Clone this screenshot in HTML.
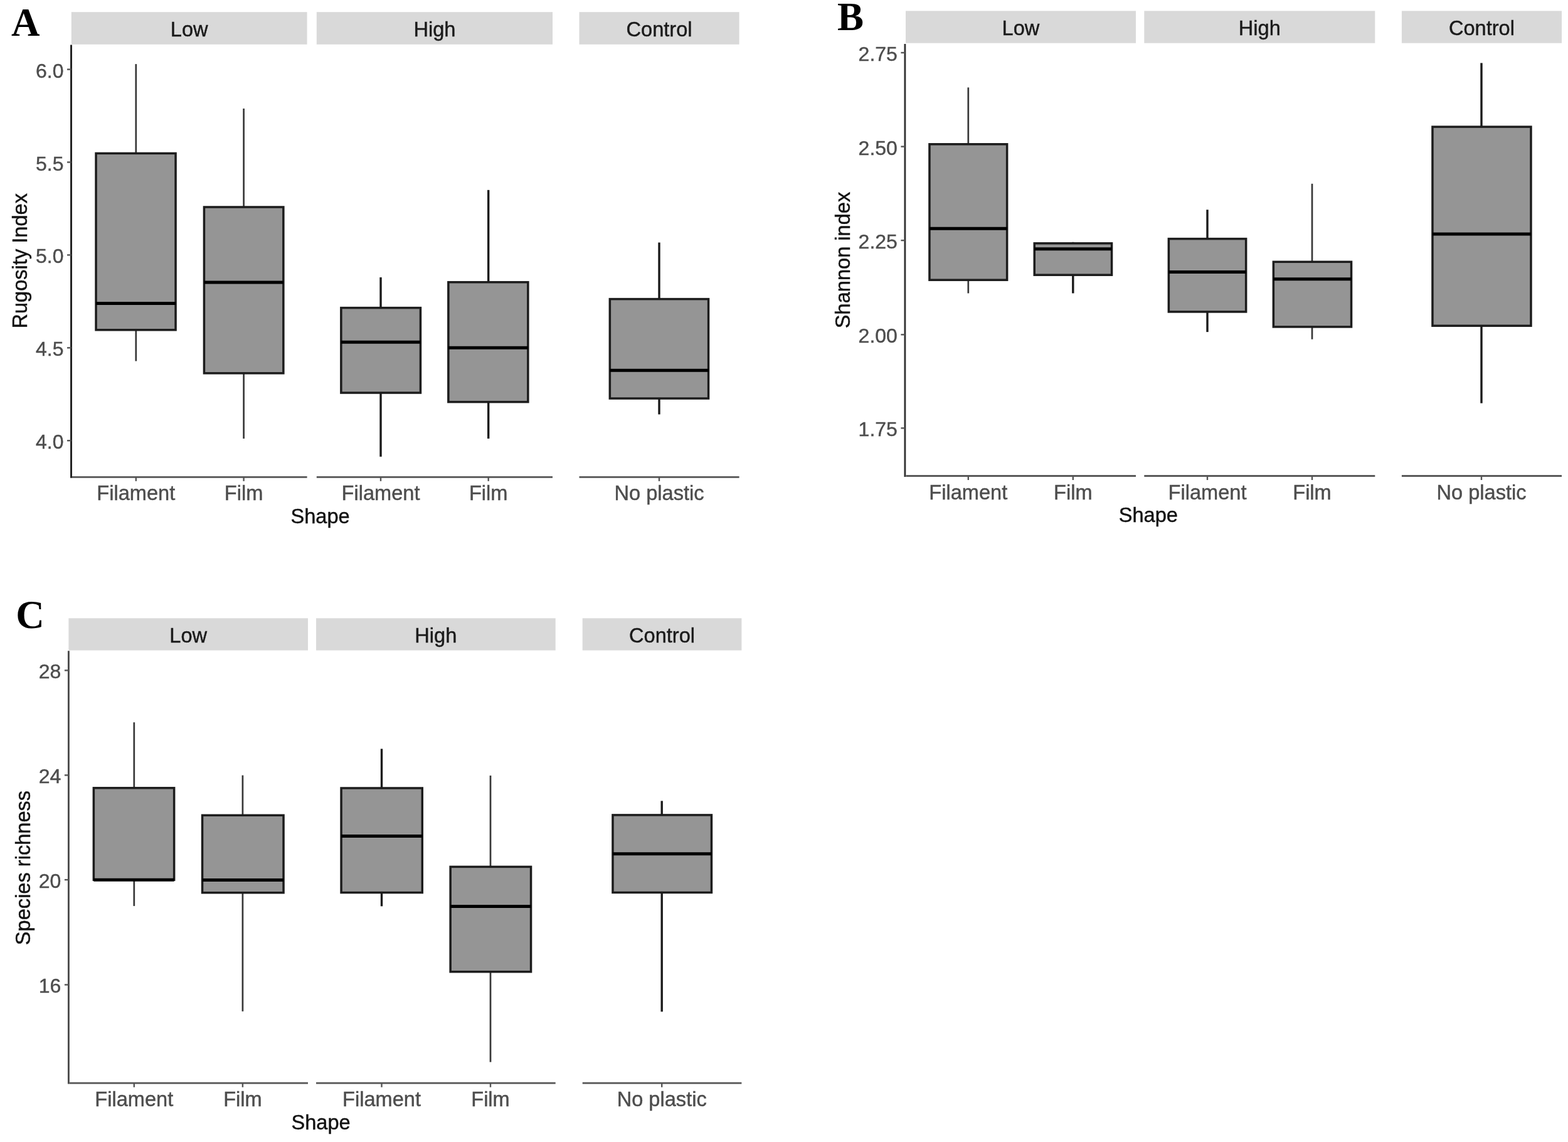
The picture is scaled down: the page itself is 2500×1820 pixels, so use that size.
<!DOCTYPE html>
<html><head><meta charset="utf-8"><title>Boxplots: Rugosity Index, Shannon index and Species richness by Shape</title>
<style>
html,body{margin:0;padding:0;background:#fff;}
body{width:2500px;height:1820px;overflow:hidden;}
svg{display:block;}
text{font-family:"Liberation Sans", Arial, Helvetica, sans-serif;}
.st{font-size:32.6px;fill:#1a1a1a;stroke:#1a1a1a;stroke-width:0.45px;text-anchor:middle;}
.yt{font-size:32px;fill:#4d4d4d;stroke:#4d4d4d;stroke-width:0.45px;text-anchor:end;}
.xt{font-size:32.6px;fill:#4d4d4d;stroke:#4d4d4d;stroke-width:0.45px;text-anchor:middle;}
.ti{font-size:32.6px;fill:#111;stroke:#111;stroke-width:0.45px;text-anchor:middle;}
.let{font-family:"Liberation Serif", "Times New Roman", Times, serif;font-weight:bold;font-size:63px;fill:#000;}
.ax{stroke:#2a2a2a;stroke-width:3.2;}
.tk{stroke:#555;stroke-width:2.4;}
.wh{stroke:#1c1c1c;}
.bx{fill:#959595;stroke:#1c1c1c;stroke-width:3.5;}
.md{stroke:#000;stroke-width:5.0;}
</style></head>
<body>
<svg width="2500" height="1820" viewBox="0 0 2500 1820">
<rect width="2500" height="1820" fill="#fff"/>
<rect x="113.8" y="19.2" width="375.8" height="51.6" fill="#d9d9d9"/>
<text class="st" x="301.7" y="57.87">Low</text>
<rect x="504.8" y="19.2" width="376.2" height="51.6" fill="#d9d9d9"/>
<text class="st" x="692.9" y="57.87">High</text>
<rect x="923.5" y="19.2" width="255.1" height="51.6" fill="#d9d9d9"/>
<text class="st" x="1051.05" y="57.87">Control</text>
<line x1="113.5" y1="71.4" x2="113.5" y2="761.7" stroke="#1e1e1e" stroke-width="2.9"/>
<line x1="114.95" y1="760.3" x2="489.6" y2="760.3" stroke="#555" stroke-width="2.8"/>
<line x1="504.8" y1="760.3" x2="881" y2="760.3" stroke="#555" stroke-width="2.8"/>
<line x1="923.5" y1="760.3" x2="1178.6" y2="760.3" stroke="#555" stroke-width="2.8"/>
<line x1="107" y1="110.6" x2="113.5" y2="110.6" class="tk"/>
<text class="yt" x="101.5" y="123.66">6.0</text>
<line x1="107" y1="258.5" x2="113.5" y2="258.5" class="tk"/>
<text class="yt" x="101.5" y="271.56">5.5</text>
<line x1="107" y1="406.4" x2="113.5" y2="406.4" class="tk"/>
<text class="yt" x="101.5" y="419.46">5.0</text>
<line x1="107" y1="554.3" x2="113.5" y2="554.3" class="tk"/>
<text class="yt" x="101.5" y="567.36">4.5</text>
<line x1="107" y1="702.2" x2="113.5" y2="702.2" class="tk"/>
<text class="yt" x="101.5" y="715.26">4.0</text>
<line x1="216.8" y1="102.1" x2="216.8" y2="244.4" stroke="#383838" stroke-width="2.7"/>
<line x1="216.8" y1="525.8" x2="216.8" y2="575.5" stroke="#383838" stroke-width="2.7"/>
<rect x="153.05" y="244.4" width="127" height="281.4" class="bx"/>
<line x1="153.05" y1="483.5" x2="280.05" y2="483.5" class="md"/>
<line x1="216.8" y1="760.3" x2="216.8" y2="766.8" class="tk"/>
<text class="xt" x="216.8" y="797.2">Filament</text>
<line x1="388.6" y1="173" x2="388.6" y2="330" stroke="#383838" stroke-width="2.7"/>
<line x1="388.6" y1="594.8" x2="388.6" y2="699" stroke="#383838" stroke-width="2.7"/>
<rect x="325.45" y="330" width="126.4" height="264.8" class="bx"/>
<line x1="325.45" y1="450" x2="451.85" y2="450" class="md"/>
<line x1="388.6" y1="760.3" x2="388.6" y2="766.8" class="tk"/>
<text class="xt" x="388.6" y="797.2">Film</text>
<line x1="607" y1="442" x2="607" y2="490.6" stroke="#1a1a1a" stroke-width="3.4"/>
<line x1="607" y1="626" x2="607" y2="727.8" stroke="#1a1a1a" stroke-width="3.4"/>
<rect x="543.85" y="490.6" width="126.6" height="135.4" class="bx"/>
<line x1="543.85" y1="545.2" x2="670.45" y2="545.2" class="md"/>
<line x1="607" y1="760.3" x2="607" y2="766.8" class="tk"/>
<text class="xt" x="607" y="797.2">Filament</text>
<line x1="778.7" y1="302.8" x2="778.7" y2="449.7" stroke="#1a1a1a" stroke-width="3.4"/>
<line x1="778.7" y1="640.6" x2="778.7" y2="699" stroke="#1a1a1a" stroke-width="3.4"/>
<rect x="714.85" y="449.7" width="127" height="190.9" class="bx"/>
<line x1="714.85" y1="554.2" x2="841.85" y2="554.2" class="md"/>
<line x1="778.7" y1="760.3" x2="778.7" y2="766.8" class="tk"/>
<text class="xt" x="778.7" y="797.2">Film</text>
<line x1="1051" y1="386.5" x2="1051" y2="476.6" stroke="#1a1a1a" stroke-width="3.4"/>
<line x1="1051" y1="635" x2="1051" y2="660.4" stroke="#1a1a1a" stroke-width="3.4"/>
<rect x="972.35" y="476.6" width="157.2" height="158.4" class="bx"/>
<line x1="972.35" y1="590.3" x2="1129.55" y2="590.3" class="md"/>
<line x1="1051" y1="760.3" x2="1051" y2="766.8" class="tk"/>
<text class="xt" x="1051" y="797.2">No plastic</text>
<text class="ti" x="510.6" y="833.6">Shape</text>
<text class="ti" transform="translate(42.7,415.8) rotate(-90)">Rugosity Index</text>
<text class="let" x="18" y="57.3">A</text>
<rect x="1444" y="17.4" width="367" height="51.3" fill="#d9d9d9"/>
<text class="st" x="1627.5" y="55.92">Low</text>
<rect x="1824.3" y="17.4" width="368" height="51.3" fill="#d9d9d9"/>
<text class="st" x="2008.3" y="55.92">High</text>
<rect x="2234.9" y="17.4" width="255.1" height="51.3" fill="#d9d9d9"/>
<text class="st" x="2362.45" y="55.92">Control</text>
<line x1="1442.9" y1="70" x2="1442.9" y2="759.9" stroke="#333" stroke-width="2.9"/>
<line x1="1444.35" y1="758.5" x2="1811" y2="758.5" stroke="#5a5a5a" stroke-width="2.8"/>
<line x1="1824.3" y1="758.5" x2="2192.3" y2="758.5" stroke="#5a5a5a" stroke-width="2.8"/>
<line x1="2234.9" y1="758.5" x2="2490" y2="758.5" stroke="#5a5a5a" stroke-width="2.8"/>
<line x1="1436.4" y1="84" x2="1442.9" y2="84" class="tk"/>
<text class="yt" x="1430.9" y="97.06">2.75</text>
<line x1="1436.4" y1="233.6" x2="1442.9" y2="233.6" class="tk"/>
<text class="yt" x="1430.9" y="246.66">2.50</text>
<line x1="1436.4" y1="383.1" x2="1442.9" y2="383.1" class="tk"/>
<text class="yt" x="1430.9" y="396.16">2.25</text>
<line x1="1436.4" y1="533.3" x2="1442.9" y2="533.3" class="tk"/>
<text class="yt" x="1430.9" y="546.36">2.00</text>
<line x1="1436.4" y1="682.3" x2="1442.9" y2="682.3" class="tk"/>
<text class="yt" x="1430.9" y="695.36">1.75</text>
<line x1="1543.8" y1="139.4" x2="1543.8" y2="229.8" stroke="#383838" stroke-width="2.7"/>
<line x1="1543.8" y1="446.2" x2="1543.8" y2="467.4" stroke="#383838" stroke-width="2.7"/>
<rect x="1481.95" y="229.8" width="123.7" height="216.4" class="bx"/>
<line x1="1481.95" y1="364.2" x2="1605.65" y2="364.2" class="md"/>
<line x1="1543.8" y1="758.5" x2="1543.8" y2="765" class="tk"/>
<text class="xt" x="1543.8" y="795.9">Filament</text>
<line x1="1710.8" y1="385.8" x2="1710.8" y2="387.8" stroke="#1a1a1a" stroke-width="3.4"/>
<line x1="1710.8" y1="438.2" x2="1710.8" y2="467.4" stroke="#1a1a1a" stroke-width="3.4"/>
<rect x="1649.25" y="387.8" width="123.3" height="50.4" class="bx"/>
<line x1="1649.25" y1="396.7" x2="1772.55" y2="396.7" class="md"/>
<line x1="1710.8" y1="758.5" x2="1710.8" y2="765" class="tk"/>
<text class="xt" x="1710.8" y="795.9">Film</text>
<line x1="1925" y1="334.2" x2="1925" y2="380.6" stroke="#1a1a1a" stroke-width="3.4"/>
<line x1="1925" y1="496.9" x2="1925" y2="529.1" stroke="#1a1a1a" stroke-width="3.4"/>
<rect x="1863.35" y="380.6" width="123.3" height="116.3" class="bx"/>
<line x1="1863.35" y1="433.5" x2="1986.65" y2="433.5" class="md"/>
<line x1="1925" y1="758.5" x2="1925" y2="765" class="tk"/>
<text class="xt" x="1925" y="795.9">Filament</text>
<line x1="2092" y1="292.8" x2="2092" y2="417.3" stroke="#383838" stroke-width="2.7"/>
<line x1="2092" y1="520.9" x2="2092" y2="540.7" stroke="#383838" stroke-width="2.7"/>
<rect x="2030.35" y="417.3" width="124.2" height="103.6" class="bx"/>
<line x1="2030.35" y1="444.8" x2="2154.55" y2="444.8" class="md"/>
<line x1="2092" y1="758.5" x2="2092" y2="765" class="tk"/>
<text class="xt" x="2092" y="795.9">Film</text>
<line x1="2362" y1="100.4" x2="2362" y2="202.1" stroke="#1a1a1a" stroke-width="3.4"/>
<line x1="2362" y1="519.2" x2="2362" y2="642.6" stroke="#1a1a1a" stroke-width="3.4"/>
<rect x="2283.95" y="202.1" width="157" height="317.1" class="bx"/>
<line x1="2283.95" y1="373.1" x2="2440.95" y2="373.1" class="md"/>
<line x1="2362" y1="758.5" x2="2362" y2="765" class="tk"/>
<text class="xt" x="2362" y="795.9">No plastic</text>
<text class="ti" x="1830.8" y="832">Shape</text>
<text class="ti" transform="translate(1354.6,414.5) rotate(-90)">Shannon index</text>
<text class="let" x="1335" y="48.3">B</text>
<rect x="109.4" y="985.3" width="381.6" height="51.2" fill="#d9d9d9"/>
<text class="st" x="300.2" y="1023.77">Low</text>
<rect x="504" y="985.3" width="381.7" height="51.2" fill="#d9d9d9"/>
<text class="st" x="694.85" y="1023.77">High</text>
<rect x="928.7" y="985.3" width="253.7" height="51.2" fill="#d9d9d9"/>
<text class="st" x="1055.55" y="1023.77">Control</text>
<line x1="109.4" y1="1037.3" x2="109.4" y2="1727.6" stroke="#4a4a4a" stroke-width="2.9"/>
<line x1="110.85" y1="1726.2" x2="491" y2="1726.2" stroke="#555" stroke-width="2.8"/>
<line x1="504" y1="1726.2" x2="885.7" y2="1726.2" stroke="#555" stroke-width="2.8"/>
<line x1="928.7" y1="1726.2" x2="1182.4" y2="1726.2" stroke="#555" stroke-width="2.8"/>
<line x1="102.9" y1="1068.4" x2="109.4" y2="1068.4" class="tk"/>
<text class="yt" x="97.4" y="1081.46">28</text>
<line x1="102.9" y1="1235.4" x2="109.4" y2="1235.4" class="tk"/>
<text class="yt" x="97.4" y="1248.46">24</text>
<line x1="102.9" y1="1402.1" x2="109.4" y2="1402.1" class="tk"/>
<text class="yt" x="97.4" y="1415.16">20</text>
<line x1="102.9" y1="1569.4" x2="109.4" y2="1569.4" class="tk"/>
<text class="yt" x="97.4" y="1582.46">16</text>
<line x1="213.8" y1="1151.2" x2="213.8" y2="1255.8" stroke="#383838" stroke-width="2.7"/>
<line x1="213.8" y1="1402.2" x2="213.8" y2="1443.9" stroke="#383838" stroke-width="2.7"/>
<rect x="149.35" y="1255.8" width="128.3" height="146.4" class="bx"/>
<line x1="149.35" y1="1402.2" x2="277.65" y2="1402.2" class="md"/>
<line x1="213.8" y1="1726.2" x2="213.8" y2="1732.7" class="tk"/>
<text class="xt" x="213.8" y="1762.9">Filament</text>
<line x1="386.9" y1="1235.6" x2="386.9" y2="1299.3" stroke="#383838" stroke-width="2.7"/>
<line x1="386.9" y1="1422.7" x2="386.9" y2="1611.8" stroke="#383838" stroke-width="2.7"/>
<rect x="322.55" y="1299.3" width="129.5" height="123.4" class="bx"/>
<line x1="322.55" y1="1402.5" x2="452.05" y2="1402.5" class="md"/>
<line x1="386.9" y1="1726.2" x2="386.9" y2="1732.7" class="tk"/>
<text class="xt" x="386.9" y="1762.9">Film</text>
<line x1="608.5" y1="1193.4" x2="608.5" y2="1256" stroke="#1a1a1a" stroke-width="3.4"/>
<line x1="608.5" y1="1422.5" x2="608.5" y2="1444.3" stroke="#1a1a1a" stroke-width="3.4"/>
<rect x="544.05" y="1256" width="129.2" height="166.5" class="bx"/>
<line x1="544.05" y1="1332.5" x2="673.25" y2="1332.5" class="md"/>
<line x1="608.5" y1="1726.2" x2="608.5" y2="1732.7" class="tk"/>
<text class="xt" x="608.5" y="1762.9">Filament</text>
<line x1="782" y1="1236" x2="782" y2="1381.4" stroke="#383838" stroke-width="2.7"/>
<line x1="782" y1="1548.7" x2="782" y2="1692.6" stroke="#383838" stroke-width="2.7"/>
<rect x="718.15" y="1381.4" width="128.4" height="167.3" class="bx"/>
<line x1="718.15" y1="1444.6" x2="846.55" y2="1444.6" class="md"/>
<line x1="782" y1="1726.2" x2="782" y2="1732.7" class="tk"/>
<text class="xt" x="782" y="1762.9">Film</text>
<line x1="1055.2" y1="1276.4" x2="1055.2" y2="1298.9" stroke="#1a1a1a" stroke-width="3.4"/>
<line x1="1055.2" y1="1422.4" x2="1055.2" y2="1612.3" stroke="#1a1a1a" stroke-width="3.4"/>
<rect x="976.95" y="1298.9" width="157.5" height="123.5" class="bx"/>
<line x1="976.95" y1="1360.7" x2="1134.45" y2="1360.7" class="md"/>
<line x1="1055.2" y1="1726.2" x2="1055.2" y2="1732.7" class="tk"/>
<text class="xt" x="1055.2" y="1762.9">No plastic</text>
<text class="ti" x="511.6" y="1799.5">Shape</text>
<text class="ti" transform="translate(47.6,1383) rotate(-90)">Species richness</text>
<text class="let" x="25.3" y="1001">C</text>
</svg>
</body></html>
